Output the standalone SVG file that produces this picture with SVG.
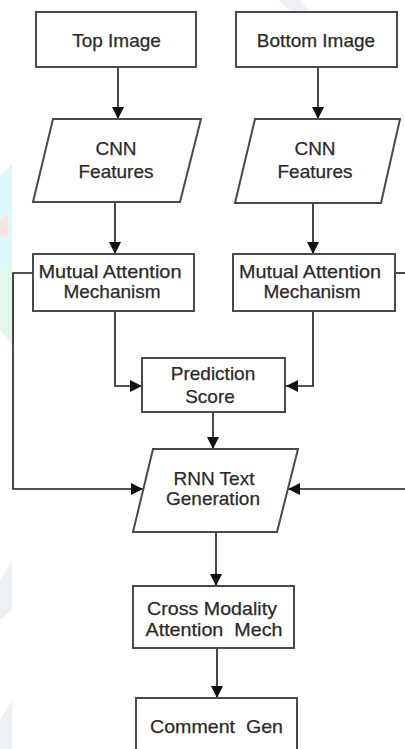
<svg xmlns="http://www.w3.org/2000/svg" width="405" height="749" viewBox="0 0 405 749">
<style>
.box{fill:#fff;stroke:#4a4a4a;stroke-width:2}
.t{font-family:"Liberation Sans",Arial,sans-serif;font-size:19px;fill:#2a2a2a;stroke:#2a2a2a;stroke-width:0.25;text-anchor:middle}
.c{fill:none;stroke:#1a1a1a;stroke-width:1.6}
</style>
<defs>
<marker id="ah" markerWidth="13" markerHeight="12" refX="12" refY="6" orient="auto" markerUnits="userSpaceOnUse">
<path d="M0,0 L12,6 L0,12 Z" fill="#111"/>
</marker>
</defs>
<rect width="405" height="749" fill="#fff"/>
<g id="watermark" opacity="0.5">
<polygon points="0,175 12,165 12,270 0,280" fill="#bfeff5"/>
<polygon points="0,270 12,262 12,345 0,330" fill="#cdeedd"/>
<polygon points="0,220 8,215 8,235 0,238" fill="#f3c9c9"/>
<polygon points="0,580 12,560 12,610 0,620" fill="#dde5ea"/>
<polygon points="0,720 12,700 12,749 0,749" fill="#dde5ea"/>
<polygon points="278,0 300,0 310,12 292,12" fill="#dfe3ea"/>
</g>
<g id="connectors">
<line class="c" x1="118" y1="67" x2="118" y2="119" marker-end="url(#ah)"/>
<line class="c" x1="318" y1="67" x2="318" y2="119" marker-end="url(#ah)"/>
<line class="c" x1="115" y1="202" x2="115" y2="254" marker-end="url(#ah)"/>
<line class="c" x1="313" y1="203" x2="313" y2="254" marker-end="url(#ah)"/>
<polyline class="c" points="115,311 115,386 142,386" marker-end="url(#ah)"/>
<polyline class="c" points="313,311 313,386 286,386" marker-end="url(#ah)"/>
<polyline class="c" points="33,273 13,273 13,489 143,489" marker-end="url(#ah)"/>
<line class="c" x1="395" y1="273" x2="405" y2="273"/>
<line class="c" x1="405" y1="489" x2="288" y2="489" marker-end="url(#ah)"/>
<line class="c" x1="213" y1="412" x2="213" y2="449" marker-end="url(#ah)"/>
<line class="c" x1="216" y1="532" x2="216" y2="586" marker-end="url(#ah)"/>
<line class="c" x1="217" y1="648" x2="217" y2="698" marker-end="url(#ah)"/>
</g>
<g id="top-image">
<rect class="box" x="36" y="12" width="160" height="55"/>
<text class="t" x="116.5" y="47">Top Image</text>
</g>
<g id="bottom-image">
<rect class="box" x="236" y="12" width="161" height="55"/>
<text class="t" x="316" y="47">Bottom Image</text>
</g>
<g id="cnn-left">
<polygon class="box" points="53,119 201,119 180,202 33,202"/>
<text class="t" x="116" y="155">CNN</text>
<text class="t" x="116" y="178">Features</text>
</g>
<g id="cnn-right">
<polygon class="box" points="255,119 400,119 381,203 235,203"/>
<text class="t" x="315" y="155">CNN</text>
<text class="t" x="315" y="178">Features</text>
</g>
<g id="mam-left">
<rect class="box" x="33" y="254" width="161" height="57"/>
<text class="t" x="110" y="278" textLength="143" lengthAdjust="spacingAndGlyphs">Mutual Attention</text>
<text class="t" x="112" y="298">Mechanism</text>
</g>
<g id="mam-right">
<rect class="box" x="233" y="254" width="162" height="57"/>
<text class="t" x="310" y="278" textLength="142" lengthAdjust="spacingAndGlyphs">Mutual Attention</text>
<text class="t" x="312" y="298">Mechanism</text>
</g>
<g id="prediction">
<rect class="box" x="142" y="358" width="143" height="54"/>
<text class="t" x="213" y="380">Prediction</text>
<text class="t" x="210" y="403">Score</text>
</g>
<g id="rnn">
<polygon class="box" points="153,449 298,449 277,532 133,532"/>
<text class="t" x="214" y="485">RNN Text</text>
<text class="t" x="213" y="505">Generation</text>
</g>
<g id="cross">
<rect class="box" x="133" y="586" width="161" height="62"/>
<text class="t" x="212" y="615" textLength="130" lengthAdjust="spacingAndGlyphs">Cross Modality</text>
<text class="t" x="214" y="636" xml:space="preserve" textLength="137" lengthAdjust="spacingAndGlyphs">Attention  Mech</text>
</g>
<g id="comment">
<rect class="box" x="136" y="698" width="161" height="60"/>
<text class="t" x="216.5" y="733" xml:space="preserve" textLength="133" lengthAdjust="spacingAndGlyphs">Comment  Gen</text>
</g>
</svg>
